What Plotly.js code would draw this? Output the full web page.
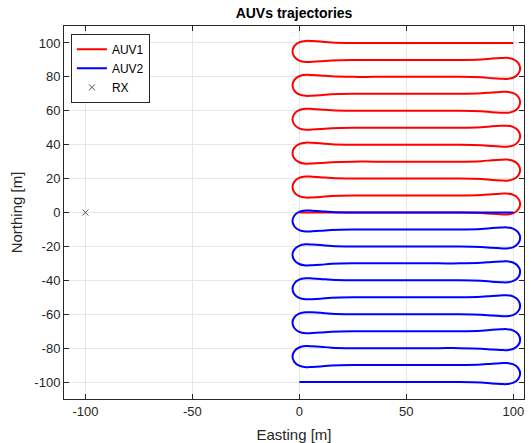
<!DOCTYPE html>
<html>
<head>
<meta charset="utf-8">
<script src="https://cdn.plot.ly/plotly-3.0.1.min.js"></script>
<style>html,body{margin:0;padding:0;background:#fff;}#chart{width:531px;height:443px;}</style>
</head>
<body>
<div id="chart"></div>
<script>
// Lane northings (m) of each survey pattern, in travel order
const lanesAUV1 = [100, 90, 80, 70, 60, 50, 40, 30, 20, 10, 0];
const lanesAUV2 = [0, -10, -20, -30, -40, -50, -60, -70, -80, -90, -100];
// Lane ends (easting, m)
const westEnd = 0;
const eastEnd = 100;
// Bulb-turn waypoints, relative to the lane end and the upper lane
const turnDx = [35, 25, 15, 10, 6, 3, -0.1, -2.37, -3.2, -2.37, -0.1, 3, 6, 10, 15, 25, 35];
const turnDy = [0, 0, 0.3, 0.8, 1.1, 1.2, 0.37, -1.9, -5, -8.1, -10.37, -11.2, -11.1, -10.8, -10.3, -10, -10];
// Receiver position
const rxEast = [-100];
const rxNorth = [0];
// Tick labels
const xTickVals = [-100, -50, 0, 50, 100];
const xTickText = ['-100', '-50', '0', '50', '100'];
const yTickVals = [100, 80, 60, 40, 20, 0, -20, -40, -60, -80, -100];
const yTickText = ['100', '80', '60', '40', '20', '0', '-20', '-40', '-60', '-80', '-100'];

function buildPath(lanes) {
  const x = [eastEnd], y = [lanes[0]];
  for (let k = 0; k < lanes.length - 1; k++) {
    const y0 = lanes[k];
    for (let i = 0; i < turnDx.length; i++) {
      if (k % 2 === 0) x.push(westEnd + turnDx[i]);
      else x.push(eastEnd - turnDx[i]);
      y.push(y0 + turnDy[i]);
    }
  }
  const last = lanes.length - 1;
  x.push(last % 2 === 0 ? westEnd : eastEnd);
  y.push(lanes[last]);
  return {x, y};
}

const p1 = buildPath(lanesAUV1);
const p2 = buildPath(lanesAUV2);

const font = 'Liberation Sans, Arial, sans-serif';
const axisCol = '#262626';

const traces = [
  {x: p1.x, y: p1.y, type: 'scatter', mode: 'lines', name: 'AUV1',
   line: {color: '#ff0000', width: 2, shape: 'spline', smoothing: 1}},
  {x: p2.x, y: p2.y, type: 'scatter', mode: 'lines', name: 'AUV2',
   line: {color: '#0000ff', width: 2, shape: 'spline', smoothing: 1}},
  {x: rxEast, y: rxNorth, type: 'scatter', mode: 'markers', name: 'RX',
   marker: {symbol: 'x-thin', size: 6, color: '#555555', line: {width: 1, color: '#555555'}}}
];

const layout = {
  width: 531, height: 443,
  paper_bgcolor: '#ffffff', plot_bgcolor: '#ffffff',
  margin: {l: 64, r: 7, t: 26, b: 44},
  font: {family: font, size: 13, color: axisCol},
  title: {text: '<b>AUVs trajectories</b>', font: {family: font, size: 14, color: '#000'},
          x: 0.5, xref: 'paper', y: 1 - 13/443, yref: 'container', yanchor: 'middle'},
  showlegend: true,
  legend: {x: 0.015, y: 0.979, xanchor: 'left', yanchor: 'top',
           bgcolor: '#ffffff', bordercolor: axisCol, borderwidth: 1,
           font: {family: font, size: 12, color: '#000'}, tracegroupgap: 0},
  xaxis: {range: [-110, 105], tickvals: xTickVals, ticktext: xTickText,
          ticks: 'inside', ticklen: 5, tickcolor: axisCol, showline: true, linecolor: axisCol,
          mirror: 'ticks', showgrid: true, gridcolor: '#e6e6e6', zeroline: false,
          tickfont: {size: 13, color: axisCol},
          title: {text: 'Easting [m]', font: {size: 15, color: axisCol}, standoff: 13}},
  yaxis: {range: [-110, 110], tickvals: yTickVals, ticktext: yTickText,
          ticks: 'inside', ticklen: 5, tickcolor: axisCol, showline: true, linecolor: axisCol,
          mirror: 'ticks', showgrid: true, gridcolor: '#e6e6e6', zeroline: false,
          tickfont: {size: 13, color: axisCol},
          title: {text: 'Northing [m]', font: {size: 15, color: axisCol}, standoff: 8}}
};

Plotly.newPlot('chart', traces, layout, {displayModeBar: false, staticPlot: true});
</script>
</body>
</html>
